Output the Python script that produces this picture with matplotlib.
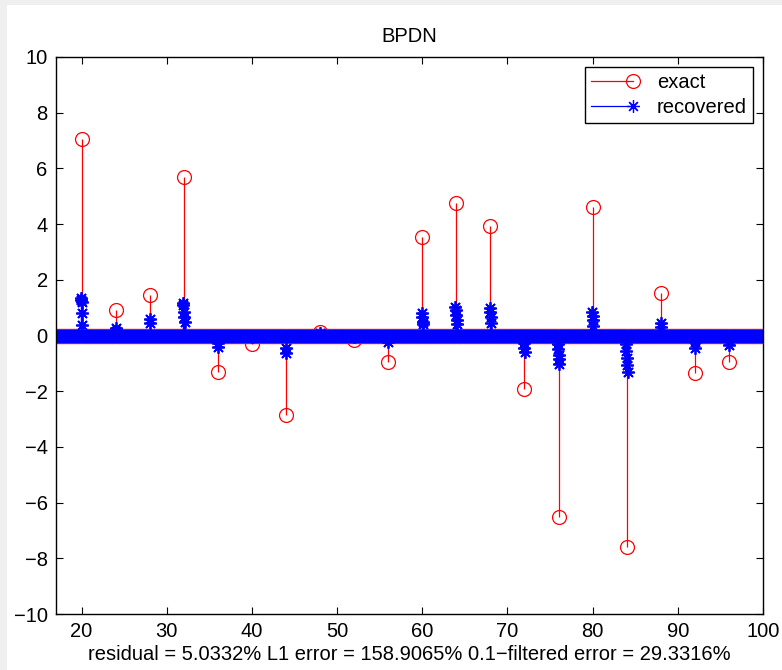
import numpy as np
import matplotlib
matplotlib.use("Agg")
import matplotlib.pyplot as plt
from matplotlib.lines import Line2D
from matplotlib.legend_handler import HandlerBase
from matplotlib.container import StemContainer
from matplotlib.patches import Rectangle

plt.rcParams['font.family'] = ['Liberation Sans', 'DejaVu Sans']

# Sample grid and sparse signal
x_start, x_stop, x_step = 17.0, 100.0, 0.05
spike_x = [20, 24, 28, 32, 36, 40, 44, 48, 52, 56,
           60, 64, 68, 72, 76, 80, 84, 88, 92, 96]
exact_vals = [7.05, 0.92, 1.45, 5.69, -1.31, -0.30, -2.85, 0.12, -0.16, -0.95,
              3.53, 4.76, 3.93, -1.93, -6.52, 4.61, -7.58, 1.52, -1.34, -0.95]
# Recovered coefficients clustered around each spike
rec_clusters = [
    [1.35, 1.28, 1.20, 0.80, 0.36],
    [0.26, 0.15],
    [0.58, 0.44],
    [1.18, 1.09, 0.85, 0.68, 0.47],
    [-0.28, -0.40],
    [-0.05],
    [-0.46, -0.62],
    [0.10],
    [-0.05],
    [-0.22],
    [0.80, 0.65, 0.50, 0.40],
    [1.03, 0.90, 0.75, 0.55, 0.40],
    [1.00, 0.85, 0.65, 0.45],
    [-0.28, -0.45, -0.58],
    [-0.30, -0.50, -0.70, -0.85, -1.02],
    [0.85, 0.70, 0.55, 0.35],
    [-0.30, -0.55, -0.80, -1.05, -1.30],
    [0.45, 0.30],
    [-0.22, -0.46],
    [-0.16, -0.34],
]

xs = np.round(np.arange(x_start, x_stop + x_step / 2, x_step), 2)
exact = np.zeros_like(xs)
recovered = np.zeros_like(xs)
for sx, ev, cl in zip(spike_x, exact_vals, rec_clusters):
    i = int(np.argmin(np.abs(xs - sx)))
    exact[i] = ev
    first = i - (len(cl) - 1) // 2
    for k, v in enumerate(cl):
        recovered[first + k] = v

W, H = 782, 670
FS = 14.5
fig = plt.figure(figsize=(W / 100, H / 100), dpi=100, facecolor='#efefef')
fig.patches.append(Rectangle((7 / W, 0), 1, 1 - 5 / H, transform=fig.transFigure,
                             facecolor='white', edgecolor='none', zorder=-10))
ax = fig.add_axes([56 / W, 56 / H, 707 / W, 557 / H])

red, blue = '#ff0000', '#0000ff'
st1 = ax.stem(xs, exact, linefmt='-', markerfmt='o', basefmt=' ', label='exact')
st1.markerline.set(color=red, markerfacecolor='none', markeredgecolor=red,
                   markersize=10, markeredgewidth=0.9)
st1.stemlines.set(color=red, linewidth=0.9)
st2 = ax.stem(xs, recovered, linefmt='-', markerfmt='o', basefmt=' ', label='recovered')
st2.markerline.set(color=blue, marker=(8, 2, 0), markerfacecolor='none',
                   markeredgecolor=blue, markersize=9, markeredgewidth=1.3)
st2.stemlines.set(color=blue, linewidth=0.9)

ax.set_xlim(x_start, x_stop)
ax.set_ylim(-10, 10)
ax.set_xticks(np.arange(20, 101, 10))
ax.set_yticks(np.arange(-10, 11, 2))
ax.tick_params(direction='in', length=5, width=0.8, top=True, right=True,
               labelsize=FS, pad=6, colors='black')
for s in ax.spines.values():
    s.set_linewidth(1.0)
    s.set_color('black')

ax.set_title('BPDN', fontsize=FS, pad=11)
ax.set_xlabel('residual = 5.0332% L1 error = 158.9065% 0.1\u2212filtered error = 29.3316%',
              fontsize=FS, labelpad=3)


class StemKey(HandlerBase):
    def create_artists(self, legend, orig, xdescent, ydescent, width, height,
                       fontsize, trans):
        ml = orig.markerline
        y = height / 2 - ydescent
        line = Line2D([-xdescent, width - xdescent], [y, y],
                      color=ml.get_markeredgecolor(), linewidth=0.9)
        mark = Line2D([width - xdescent], [y], linestyle='none',
                      marker=ml.get_marker(), markersize=ml.get_markersize(),
                      markerfacecolor='none', markeredgecolor=ml.get_markeredgecolor(),
                      markeredgewidth=0.9)
        line.set_transform(trans)
        mark.set_transform(trans)
        return [line, mark]


leg = ax.legend(handles=[st1, st2], labels=['exact', 'recovered'],
                handler_map={StemContainer: StemKey()},
                loc='upper right', bbox_to_anchor=(0.986, 0.982), borderaxespad=0,
                fontsize=FS, fancybox=False, framealpha=1, edgecolor='black',
                handlelength=2.1, handletextpad=1.2, labelspacing=0.3,
                borderpad=0.3)
leg.get_frame().set_linewidth(1.0)

fig.savefig('out.png', dpi=100, facecolor=fig.get_facecolor())
